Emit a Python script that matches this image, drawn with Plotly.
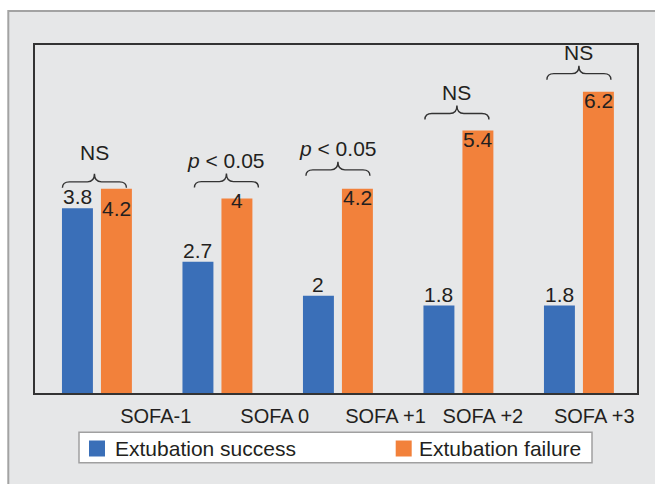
import plotly.graph_objects as go

# ---------------- data ----------------
categories = ["SOFA-1", "SOFA 0", "SOFA +1", "SOFA +2", "SOFA +3"]
success = [3.8, 2.7, 2.0, 1.8, 1.8]
failure = [4.2, 4.0, 4.2, 5.4, 6.2]
significance = ["NS", "<i>p</i> &lt; 0.05", "<i>p</i> &lt; 0.05", "NS", "NS"]
series_names = ["Extubation success", "Extubation failure"]

# ---------------- style / layout ----------------
W, H = 655, 484
ML, MR, MT, MB = 35, 18, 45, 91
PW, PH = W - ML - MR, H - MT - MB
BLUE = "#3a6fb8"
ORANGE = "#f2813b"
COLORS = [BLUE, ORANGE]
PANEL = "#e6e7e8"
TXT = "#231f20"
FONT = "Liberation Sans, Arial, sans-serif"
BARGAP = 0.353
BARGROUPGAP = 0.206
XRANGE = [-0.514, 4.482]
YRANGE = [0, 7.16]
TICK_POS = [0.488, 1.476, 2.395, 3.203, 4.127]   # where the category labels sit
BRACE_GAP = [1, 11, 13, 11, 12]                 # px between failure bar top and brace ends
BRACE_SHIFT = [-2.5, 9, 0, -1.5, 0]             # px horizontal shift of braces
SIG_EXTRA = [8, 0, 0, 0, 0]                     # px extra lift of significance text
ORANGE_NUDGE = [-11, 7, 0, 0, 0]                # px vertical nudge of failure value labels
LEG_BOX = (79, 432.3, 592, 462.7)               # legend box in pixels (x0, y0, x1, y1)
LEG_SWATCH_X = [89, 395.7]                      # swatch left edges (px)
LEG_TEXT_X = [112.5, 416.5]                     # text left edges (px)
LEG_CY = 448.5
SW = 16

xs = list(range(len(categories)))
slot = (1 - BARGAP) / 2


def px_to_paper_x(px):
    return (px - ML) / PW


def px_to_paper_y(py):
    return (MT + PH - py) / PH


fig = go.Figure()
for name, vals, col in zip(series_names, [success, failure], COLORS):
    fig.add_trace(go.Bar(x=xs, y=vals, name=name, marker_color=col,
                         marker_line_width=0, showlegend=False))

annotations = []
shapes = []

# gray outer panel
shapes.append(dict(type="rect", xref="paper", yref="paper", layer="below",
                   x0=px_to_paper_x(8.3), x1=px_to_paper_x(W + 10),
                   y0=px_to_paper_y(H + 10), y1=px_to_paper_y(11),
                   fillcolor=PANEL, line=dict(color="#a3a3a3", width=2)))

for i, (s, f) in enumerate(zip(success, failure)):
    xb = i - slot / 2
    xo = i + slot / 2
    annotations.append(dict(x=xb, y=s, xref="x", yref="y", text=f"{s:g}",
                            showarrow=False, yanchor="bottom", yshift=-2,
                            font=dict(size=21, color=TXT, family=FONT)))
    annotations.append(dict(x=xo, y=f, xref="x", yref="y", text=f"{f:g}",
                            showarrow=False, yanchor="top", yshift=5 + ORANGE_NUDGE[i],
                            font=dict(size=21, color=TXT, family=FONT)))
    # curly brace (pixel-sized path anchored to the group / failure value)
    b = BRACE_GAP[i]
    c = BRACE_SHIFT[i]
    w = 32
    r = 7
    m = b + 6
    t = b + 14
    path = (f"M{c - w},{b} Q{c - w},{m} {c - w + r},{m} L{c - r},{m} "
            f"Q{c},{m} {c},{t} Q{c},{m} {c + r},{m} L{c + w - r},{m} "
            f"Q{c + w},{m} {c + w},{b}")
    shapes.append(dict(type="path", xref="x", yref="y", xsizemode="pixel",
                       ysizemode="pixel", xanchor=i, yanchor=f, path=path,
                       line=dict(color="#333333", width=1.4)))
    annotations.append(dict(x=i, y=f, xref="x", yref="y", text=significance[i],
                            showarrow=False, yanchor="bottom", xshift=c,
                            yshift=t + SIG_EXTRA[i],
                            font=dict(size=21, color=TXT, family=FONT)))

# legend (drawn by hand so the spacing matches)
x0, y0, x1, y1 = LEG_BOX
shapes.append(dict(type="rect", xref="paper", yref="paper",
                   x0=px_to_paper_x(x0), x1=px_to_paper_x(x1),
                   y0=px_to_paper_y(y1), y1=px_to_paper_y(y0),
                   fillcolor="white", line=dict(color="#a0a0a0", width=1.5)))
for name, col, sx, tx in zip(series_names, COLORS, LEG_SWATCH_X, LEG_TEXT_X):
    shapes.append(dict(type="rect", xref="paper", yref="paper",
                       x0=px_to_paper_x(sx), x1=px_to_paper_x(sx + SW),
                       y0=px_to_paper_y(LEG_CY + SW / 2), y1=px_to_paper_y(LEG_CY - SW / 2),
                       fillcolor=col, line=dict(width=0)))
    annotations.append(dict(x=px_to_paper_x(tx), y=px_to_paper_y(LEG_CY),
                            xref="paper", yref="paper", text=name, showarrow=False,
                            xanchor="left", yanchor="middle",
                            font=dict(size=21, color=TXT, family=FONT)))

fig.update_layout(
    width=W, height=H,
    margin=dict(l=ML, r=MR, t=MT, b=MB, pad=0),
    paper_bgcolor="white", plot_bgcolor="white",
    barmode="group", bargap=BARGAP, bargroupgap=BARGROUPGAP,
    font=dict(family=FONT, color=TXT),
    showlegend=False,
    xaxis=dict(range=XRANGE, tickvals=TICK_POS, ticktext=categories,
               showgrid=False, zeroline=False, ticks="",
               tickfont=dict(size=20, color=TXT, family=FONT),
               showline=True, mirror=True, linecolor="#333333", linewidth=2,
               ticklabelstandoff=4, fixedrange=True),
    yaxis=dict(range=YRANGE, showgrid=False, zeroline=False, showticklabels=False,
               ticks="", showline=True, mirror=True, linecolor="#333333",
               linewidth=2, fixedrange=True),
    shapes=shapes,
    annotations=annotations,
)

fig.write_html(
    "out.html",
    config={"displayModeBar": False},
    post_script="document.body.style.margin='0';document.body.style.padding='0';"
                "document.documentElement.style.overflow='hidden';",
)
